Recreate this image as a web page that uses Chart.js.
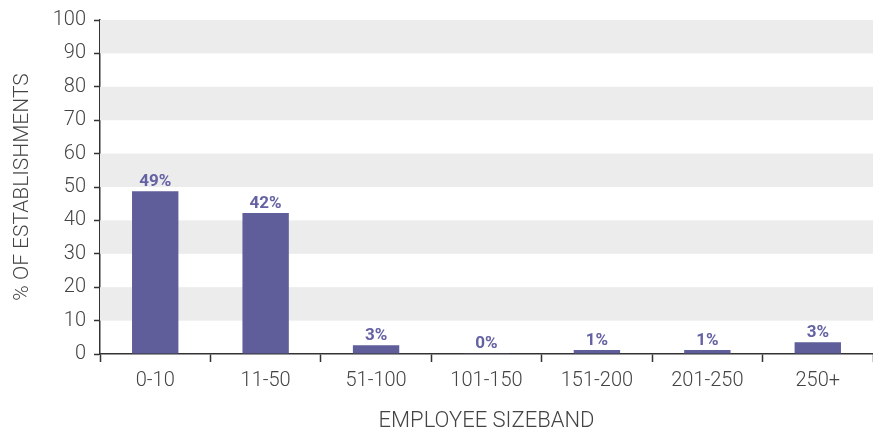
<!DOCTYPE html>
<html>
<head>
<meta charset="utf-8">
<script src="https://cdn.jsdelivr.net/npm/chart.js@4.4.1/dist/chart.umd.min.js"></script>
<style>
  html, body { margin: 0; padding: 0; background: #fff; }
  #wrap { width: 873px; height: 435px; position: relative; }
</style>
</head>
<body>
<div id="wrap"><canvas id="myChart"></canvas></div>
<script>
const categories = ['0-10', '11-50', '51-100', '101-150', '151-200', '201-250', '250+'];
const shares = [48.7, 42.2, 2.6, 0.2, 1.2, 1.2, 3.5];
const shareLabels = ['49%', '42%', '3%', '0%', '1%', '1%', '3%'];
const yTicks = [0, 10, 20, 30, 40, 50, 60, 70, 80, 90, 100];

const axisFont = { family: 'Roboto', size: 20, weight: 300 };
const textColor = '#444';
const barColor = '#5f5e9a';

// alternating grey bands behind the bars
const bandsPlugin = {
  id: 'bands',
  beforeDatasetsDraw(chart) {
    const { ctx, chartArea, scales: { y } } = chart;
    ctx.save();
    ctx.fillStyle = '#ececec';
    for (let i = 1; i < yTicks.length; i += 2) {
      const top = y.getPixelForValue(yTicks[yTicks.length - i]);
      const bottom = y.getPixelForValue(yTicks[yTicks.length - i - 1]);
      ctx.fillRect(chartArea.left, top, chartArea.right - chartArea.left, bottom - top);
    }
    ctx.restore();
  }
};

// value labels above each bar
const valueLabels = {
  id: 'valueLabels',
  afterDatasetsDraw(chart) {
    const { ctx } = chart;
    const meta = chart.getDatasetMeta(0);
    ctx.save();
    ctx.font = 'bold 17px Roboto';
    ctx.fillStyle = '#6562a3';
    ctx.textAlign = 'center';
    ctx.textBaseline = 'alphabetic';
    meta.data.forEach((bar, i) => {
      ctx.fillText(shareLabels[i], bar.x, bar.y - 5);
    });
    ctx.restore();
  }
};

new Chart(document.getElementById('myChart').getContext('2d'), {
  type: 'bar',
  data: {
    labels: categories,
    datasets: [
      {
        data: shares,
        backgroundColor: barColor,
        barPercentage: 0.42,
        categoryPercentage: 1.0
      }
    ]
  },
  options: {
    responsive: true,
    maintainAspectRatio: false,
    animation: false,
    layout: { padding: { top: 13, right: 0, bottom: 0, left: 0 } },
    plugins: {
      legend: { display: false },
      tooltip: { enabled: false }
    },
    scales: {
      x: {
        grid: {
          offset: true,
          drawOnChartArea: false,
          drawTicks: true,
          tickLength: 8,
          tickColor: '#333',
          tickWidth: 1.5
        },
        border: { color: '#333', width: 1.5 },
        ticks: { font: axisFont, color: textColor, padding: 7, maxRotation: 0 },
        title: {
          display: true,
          text: 'EMPLOYEE SIZEBAND',
          font: { family: 'Roboto', size: 22, weight: 300 },
          color: textColor,
          padding: { top: 4, bottom: 0 }
        },
        afterFit(scale) { scale.height = 81; }
      },
      y: {
        min: 0,
        max: 100,
        ticks: { stepSize: 10, font: axisFont, color: textColor, padding: 8 },
        grid: {
          drawOnChartArea: false,
          drawTicks: true,
          tickLength: 6,
          tickColor: '#333',
          tickWidth: 1.5
        },
        border: { color: '#333', width: 1.5 },
        title: {
          display: true,
          text: '% OF ESTABLISHMENTS',
          font: { family: 'Roboto', size: 21, weight: 300 },
          color: textColor,
          padding: { top: 10, bottom: 0 }
        },
        afterFit(scale) { scale.width = 100; }
      }
    }
  },
  plugins: [bandsPlugin, valueLabels]
});
</script>
</body>
</html>
